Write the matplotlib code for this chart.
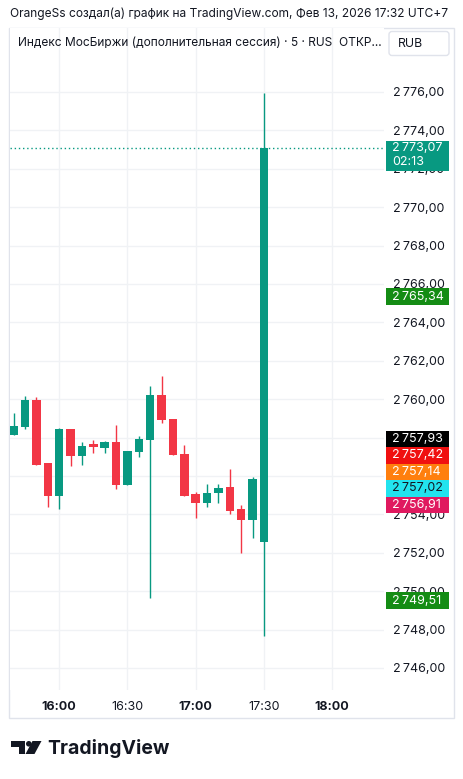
import numpy as np
import matplotlib
matplotlib.use("Agg")
import matplotlib.pyplot as plt
from matplotlib.patches import Rectangle, FancyBboxPatch, Circle, Polygon
from matplotlib.ticker import FuncFormatter
from matplotlib.transforms import blended_transform_factory

plt.rcParams['font.family'] = ['Inter', 'DejaVu Sans']

W, H = 464, 779

# 5-minute candles
times = ['15:40', '15:45', '15:50', '15:55', '16:00', '16:05', '16:10', '16:15',
         '16:20', '16:25', '16:30', '16:35', '16:40', '16:45', '16:50', '16:55',
         '17:00', '17:05', '17:10', '17:15', '17:20', '17:25', '17:30']
opens = [2758.14, 2758.57, 2759.96, 2756.68, 2754.96, 2758.45, 2757.04, 2757.67,
         2757.48, 2757.79, 2755.53, 2757.27, 2757.88, 2760.22, 2758.99, 2757.15,
         2755.06, 2754.61, 2755.13, 2755.44, 2754.26, 2753.71, 2752.58]
highs = [2759.27, 2760.18, 2760.10, 2756.68, 2758.48, 2758.45, 2757.79, 2757.88,
         2757.84, 2758.66, 2757.30, 2758.08, 2760.70, 2761.21, 2758.99, 2757.61,
         2755.18, 2755.58, 2755.58, 2756.38, 2754.49, 2755.93, 2775.95]
lows = [2758.14, 2758.45, 2756.55, 2754.40, 2754.28, 2756.54, 2756.57, 2757.21,
        2757.21, 2755.31, 2755.53, 2756.97, 2749.65, 2758.78, 2757.09, 2754.96,
        2753.83, 2754.40, 2754.61, 2754.02, 2751.97, 2752.76, 2747.67]
closes = [2758.60, 2759.96, 2756.59, 2754.96, 2758.45, 2757.04, 2757.56, 2757.51,
          2757.79, 2755.53, 2757.30, 2757.93, 2760.22, 2758.92, 2757.09, 2754.96,
          2754.61, 2755.10, 2755.39, 2754.19, 2753.71, 2755.83, 2773.07]

# price scale labels
label_values = [2765.34, 2757.93, 2757.42, 2757.14, 2757.02, 2756.91, 2749.51]
label_colors = ['#148c14', '#000000', '#f01010', '#ff7f0e', '#22e3ee', '#e0195f', '#148c14']
label_text_colors = ['white', 'white', 'white', 'white', '#131722', 'white', 'white']
last_price = 2773.07
countdown = '02:13'

time_ticks = ['16:00', '16:30', '17:00', '17:30', '18:00']
price_ticks = list(range(2746, 2777, 2))

UP = '#089981'
DOWN = '#f23645'
GRID = '#f0f2f5'
TXT = '#131722'


def to_min(s):
    h, m = s.split(':')
    return int(h) * 60 + int(m)


def fmt_price(v, pos=None):
    s = f"{v:,.2f}"
    return s.replace(',', '\u2009').replace('.', ',')


x = np.array([to_min(t) for t in times], dtype=float)
o = np.array(opens)
h = np.array(highs)
l = np.array(lows)
c = np.array(closes)

fig = plt.figure(figsize=(W / 100, H / 100), dpi=100)
fig.patch.set_facecolor('white')

ax_l, ax_r, ax_t, ax_b = 10, 384, 28, 690
ax = fig.add_axes([ax_l / W, 1 - ax_b / H, (ax_r - ax_l) / W, (ax_b - ax_t) / H])
ax.set_xlim(938.36, 1102.8)
ax.set_ylim(2744.854, 2779.333)
px_per_unit = (ax_b - ax_t) / (2779.333 - 2744.854)

colors = np.where(c >= o, UP, DOWN)
ax.vlines(x, l, h, colors=colors, lw=1, zorder=3)
bottoms = np.minimum(o, c)
heights = np.maximum(np.abs(c - o), 1.0 / px_per_unit)
ax.bar(x, heights, bottom=bottoms, width=3.7, color=colors, lw=0, zorder=4)

ax.axhline(last_price, color=UP, lw=1, ls=(0, (1, 2)), zorder=5)

for s in ax.spines.values():
    s.set_visible(False)
ax.set_yticks(price_ticks)
ax.yaxis.set_major_formatter(FuncFormatter(fmt_price))
ax.yaxis.tick_right()
ax.tick_params(axis='y', length=0, pad=6.5, labelsize=9, labelcolor=TXT)
ax.set_xticks([to_min(t) for t in time_ticks])
ax.set_xticklabels(time_ticks)
ax.tick_params(axis='x', length=0, pad=8, labelsize=9, labelcolor=TXT)
for lab in ax.get_xticklabels():
    if lab.get_text().endswith(':00'):
        lab.set_fontweight('bold')
ax.grid(True, color=GRID, lw=1, zorder=0)
ax.set_axisbelow(True)

# price labels on the scale
tr = blended_transform_factory(ax.transAxes, ax.transData)
bx0 = 1 + 2 / (ax_r - ax_l)
bw = 63 / (ax_r - ax_l)
bh = 16.5 / px_per_unit
shown = []
prev = None
for v in label_values:
    yc = v if prev is None else min(v, prev - bh)
    shown.append(yc)
    prev = yc
for v, yc, col, tc in zip(label_values, shown, label_colors, label_text_colors):
    ax.add_patch(Rectangle((bx0, yc - bh / 2), bw, bh, transform=tr, fc=col, ec='none',
                           clip_on=False, zorder=10))
    ax.text(bx0 + 6 / (ax_r - ax_l), yc, fmt_price(v), transform=tr, color=tc, fontsize=9,
            va='center', ha='left', clip_on=False, zorder=11)

top = last_price + 7.5 / px_per_unit
lh = 30 / px_per_unit
ax.add_patch(Rectangle((bx0, top - lh), bw, lh, transform=tr, fc=UP, ec='none',
                       clip_on=False, zorder=10))
ax.text(bx0 + 6 / (ax_r - ax_l), top - 7.5 / px_per_unit, fmt_price(last_price), transform=tr,
        color='white', fontsize=9, va='center', ha='left', clip_on=False, zorder=11)
ax.text(bx0 + 6 / (ax_r - ax_l), top - 21.5 / px_per_unit, countdown, transform=tr,
        color='white', fontsize=9, va='center', ha='left', clip_on=False, zorder=11)

# decorations in pixel coordinates
deco = fig.add_axes([0, 0, 1, 1], zorder=-1)
deco.set_xlim(0, W)
deco.set_ylim(H, 0)
deco.axis('off')
deco.add_patch(Rectangle((9.5, 27.5), 444.5, 690.5, fc='none', ec='#e0e3eb', lw=1))

top_ax = fig.add_axes([0, 0, 1, 1], zorder=20)
top_ax.set_xlim(0, W)
top_ax.set_ylim(H, 0)
top_ax.axis('off')
top_ax.patch.set_alpha(0)
top_ax.text(10, 14, 'OrangeSs создал(а) график на TradingView.com, Фев 13, 2026 17:32 UTC+7',
            fontsize=8.6, color=TXT, va='center', ha='left')
top_ax.text(18, 43, 'Индекс МосБиржи (дополнительная сессия) · 5 · RUS  ОТКР...',
            fontsize=8.6, color=TXT, va='center', ha='left')
top_ax.add_patch(FancyBboxPatch((389, 31.5), 60, 24, boxstyle='round,pad=0,rounding_size=3',
                                fc='white', ec='#e0e3eb', lw=1))
top_ax.text(398, 44, 'RUB', fontsize=8.8, color=TXT, va='center', ha='left')

# logo
top_ax.add_patch(Rectangle((11, 741), 14, 5.5, fc=TXT, ec='none'))
top_ax.add_patch(Rectangle((19, 741), 6, 13, fc=TXT, ec='none'))
top_ax.add_patch(Circle((28.8, 743.8), 2.8, fc=TXT, ec='none'))
top_ax.add_patch(Polygon([(32.5, 741), (41.5, 741), (34.5, 754), (25.5, 754)], fc=TXT, ec='none'))
top_ax.text(47, 748, 'TradingView', fontsize=14, fontweight='bold', color=TXT,
            va='center', ha='left')

fig.savefig('out.png', dpi=100)
